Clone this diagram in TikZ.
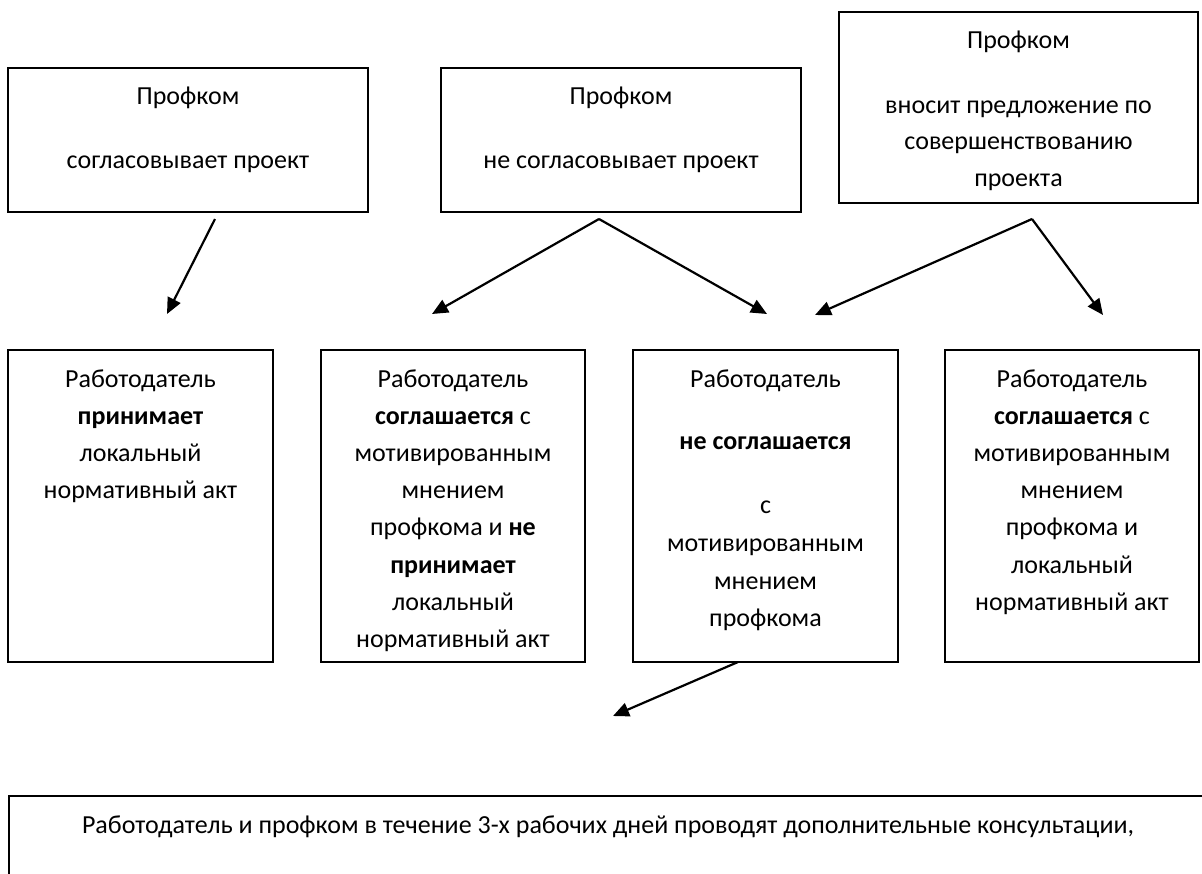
\documentclass[tikz,border=0pt]{standalone}
\usepackage{fontspec}
\setmainfont{Carlito}
\usetikzlibrary{arrows.meta}
\begin{document}
\begin{tikzpicture}[x=1pt,y=-1pt,
  box/.style={draw=black,line width=2pt,inner sep=0pt,outer sep=0pt,anchor=north west},
  txt/.style={anchor=base,inner sep=0pt,font=\fontsize{26}{31}\selectfont},
  arr/.style={line width=2.2pt,-{Triangle[length=16pt,width=14pt]}}]
\useasboundingbox (0,0) rectangle (1202,873);
% top row
\node[box,minimum width=360pt,minimum height=144pt] (b1) at (8,68) {};
\node[box,minimum width=360pt,minimum height=144pt] (b2) at (441,68) {};
\node[box,minimum width=359pt,minimum height=191pt] (b3) at (839,12) {};
\node[txt] (t1a) at (188,104) {Профком};
\node[txt] (t1b) at (188,168) {согласовывает проект};
\node[txt] (t2a) at (621,104) {Профком};
\node[txt] (t2b) at (621,168) {не согласовывает проект};
\node[txt] (t3a) at (1018.5,48) {Профком};
\node[txt] (t3b) at (1018.5,113) {вносит предложение по};
\node[txt] (t3c) at (1018.5,149) {совершенствованию};
\node[txt] (t3d) at (1018.5,186) {проекта};
% second row
\node[box,minimum width=265pt,minimum height=312pt] (b4) at (8,350) {};
\node[box,minimum width=264pt,minimum height=312pt] (b5) at (321,350) {};
\node[box,minimum width=265pt,minimum height=312pt] (b6) at (633,350) {};
\node[box,minimum width=254pt,minimum height=312pt] (b7) at (945,350) {};
\foreach \t/\y [count=\i] in {Работодатель/387, {\textbf{принимает}}/424.2, локальный/461.4, нормативный акт/498.6}
  \node[txt] (t4-\i) at (140.5,\y) {\t};
\foreach \t/\y [count=\i] in {Работодатель/387, {\textbf{соглашается} с}/424.2, мотивированным/461.4, мнением/498.6, {профкома и \textbf{не}}/535.8, {\textbf{принимает}}/573, локальный/610.2, нормативный акт/647.4}
  \node[txt] (t5-\i) at (453,\y) {\t};
\foreach \t/\y [count=\i] in {Работодатель/387, {\textbf{не соглашается}}/449, с/513, мотивированным/551, мнением/589, профкома/626}
  \node[txt] (t6-\i) at (765.5,\y) {\t};
\foreach \t/\y [count=\i] in {Работодатель/387, {\textbf{соглашается} с}/424.2, мотивированным/461.4, мнением/498.6, профкома и/535.8, локальный/573, нормативный акт/610.2}
  \node[txt] (t7-\i) at (1072,\y) {\t};
% bottom box (cut off by the page)
\draw[line width=2pt] (9,876) -- (9,796) -- (1204,796);
\node[txt] (t8) at (608,833) {Работодатель и профком в течение 3-х рабочих дней проводят дополнительные консультации,};
% connectors
\coordinate (a1s) at (215,219);
\coordinate (a1e) at (167,314);
\coordinate (a2s) at (599,219);
\coordinate (a2l) at (432,314);
\coordinate (a2r) at (767,314);
\coordinate (a3s) at (1032,219);
\coordinate (a3l) at (815,315);
\coordinate (a3r) at (1103,315);
\coordinate (a4s) at (738,662);
\coordinate (a4e) at (613,716);
\draw[arr] (a1s) -- (a1e);
\draw[arr] (a2s) -- (a2l);
\draw[arr] (a2s) -- (a2r);
\draw[arr] (a3s) -- (a3l);
\draw[arr] (a3s) -- (a3r);
\draw[arr] (a4s) -- (a4e);
\end{tikzpicture}
\end{document}
